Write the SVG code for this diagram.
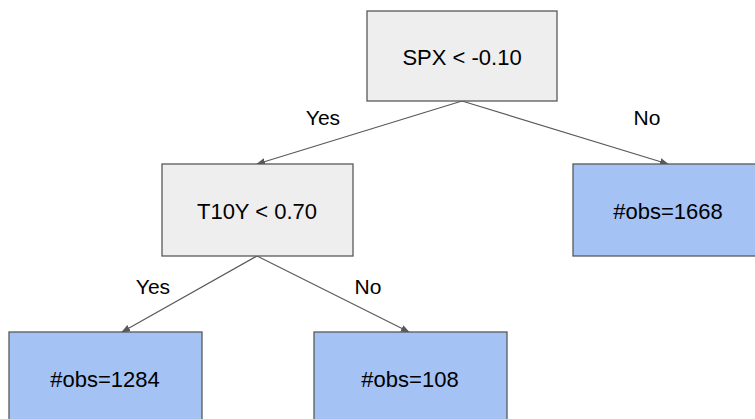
<svg xmlns="http://www.w3.org/2000/svg" width="755" height="419" viewBox="0 0 755 419">
<style>
.box{stroke:#595959;stroke-width:1.3}
.dec{fill:#eeeeee}
.leaf{fill:#a4c2f4}
.t{font-family:"Liberation Sans",Arial,sans-serif;font-size:22px;fill:#000;text-anchor:middle}
.l{font-family:"Liberation Sans",Arial,sans-serif;font-size:21px;fill:#000;text-anchor:middle}
.c{stroke:#595959;stroke-width:1.2;fill:none;marker-end:url(#ah)}
</style>
<defs>
<marker id="ah" viewBox="0 0 10 10" refX="9" refY="5" markerWidth="9" markerHeight="9" markerUnits="userSpaceOnUse" orient="auto">
<path d="M0,1 L10,5 L0,9 Z" fill="#595959"/>
</marker>
</defs>
<g id="connectors">
<line class="c" x1="462" y1="101" x2="257" y2="164"/>
<line class="c" x1="462" y1="101" x2="668" y2="164"/>
<line class="c" x1="257" y1="256" x2="122" y2="332"/>
<line class="c" x1="257" y1="256" x2="409" y2="332"/>
<text class="l" x="323" y="125">Yes</text>
<text class="l" x="647" y="125">No</text>
<text class="l" x="153" y="294">Yes</text>
<text class="l" x="368" y="294">No</text>
</g>
<g id="root">
<rect class="box dec" x="367" y="11" width="190" height="90"/>
<text class="t" x="462" y="65">SPX &lt; -0.10</text>
</g>
<g id="t10y">
<rect class="box dec" x="162" y="164" width="191" height="92"/>
<text class="t" x="257" y="219">T10Y &lt; 0.70</text>
</g>
<g id="leaf1668">
<rect class="box leaf" x="573" y="164" width="192" height="92"/>
<text class="t" x="668" y="219">#obs=1668</text>
</g>
<g id="leaf1284">
<rect class="box leaf" x="9" y="332" width="193" height="100"/>
<text class="t" x="105" y="387">#obs=1284</text>
</g>
<g id="leaf108">
<rect class="box leaf" x="314" y="332" width="193" height="100"/>
<text class="t" x="410" y="387">#obs=108</text>
</g>
</svg>
